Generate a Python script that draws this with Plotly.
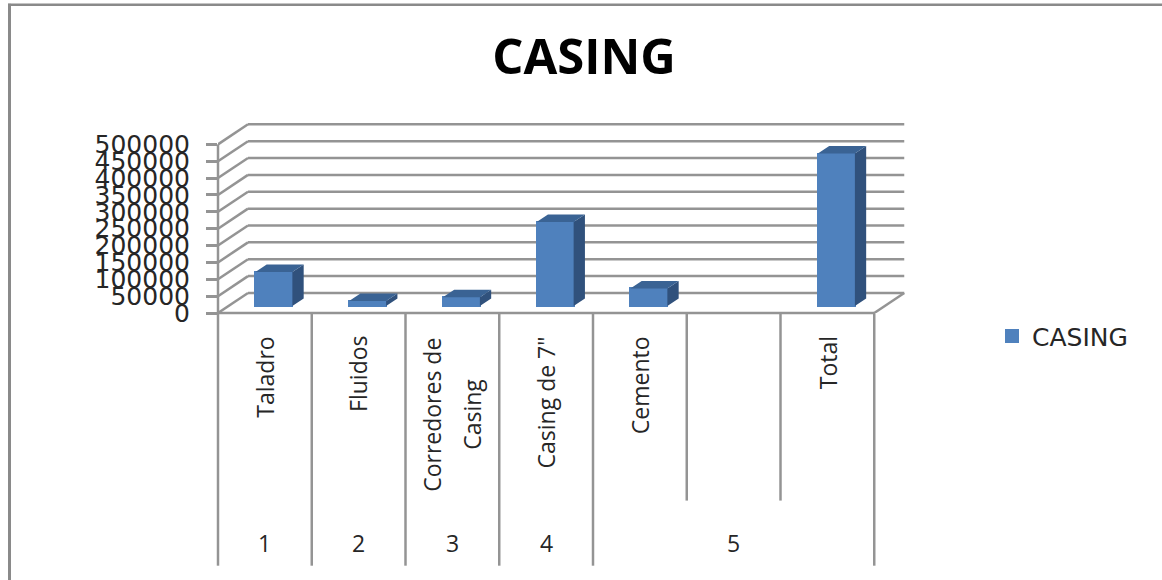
import plotly.graph_objects as go

# ---- data ----
categories = ["Taladro", "Fluidos", "Corredores de|Casing", 'Casing de 7"', "Cemento", "", "Total"]
group_labels = ["1", "2", "3", "4", "5"]
group_spans = [1, 1, 1, 1, 3]
values = [101000, 15000, 26000, 249000, 52000, None, 452000]
y_ticks = [0, 50000, 100000, 150000, 200000, 250000, 300000, 350000, 400000, 450000, 500000]
series_name = "CASING"
title_text = "CASING"

# ---- geometry / style ----
W, H = 1162, 580
L, R, T, B = 218, 914, 118, 312.7      # plot area in pixels
Y500 = 144.3                           # pixel of 500000
CAT_W = 93.75
PX_PER_VAL = (B - Y500) / 500000
GRID = "#949494"
FRONT, SIDE, TOP = "#4f81bd", "#30517c", "#3a6394"

xmax = (R - L) / CAT_W
ymax = (B - T) / PX_PER_VAL
ncat = len(categories)
DX_WALL, DY_WALL = 30 / CAT_W, 20 / PX_PER_VAL
DX_BAR, DY_BAR = 11.3 / CAT_W, 7.5 / PX_PER_VAL
BAR_W = 37 / CAT_W
BAR_SHIFT = 9 / CAT_W
FLOOR = 7 / PX_PER_VAL


def px(x):
    return (x - L) / (R - L)


def py(y):
    return (B - y) / (B - T)


x_pos = [i + 0.5 + BAR_SHIFT for i in range(ncat)]

side_x, side_y, top_x, top_y = [], [], [], []
for xc, v in zip(x_pos, values):
    if v is None:
        continue
    x0, x1 = xc - BAR_W / 2, xc + BAR_W / 2
    y0, y1 = FLOOR, FLOOR + v
    side_x += [x1, x1 + DX_BAR, x1 + DX_BAR, x1, x1, None]
    side_y += [y0, y0 + DY_BAR, y1 + DY_BAR, y1, y0, None]
    top_x += [x0, x0 + DX_BAR, x1 + DX_BAR, x1, x0, None]
    top_y += [y1, y1 + DY_BAR, y1 + DY_BAR, y1, y1, None]

fig = go.Figure()
fig.add_trace(go.Scatter(x=side_x, y=side_y, mode="lines", fill="toself", fillcolor=SIDE,
                         line=dict(width=0), showlegend=False, hoverinfo="skip"))
fig.add_trace(go.Scatter(x=top_x, y=top_y, mode="lines", fill="toself", fillcolor=TOP,
                         line=dict(width=0), showlegend=False, hoverinfo="skip"))
fig.add_trace(go.Bar(x=x_pos, y=values, base=FLOOR, width=BAR_W, name=series_name,
                     marker=dict(color=FRONT, line=dict(color=FRONT, width=2)),
                     showlegend=True))

shapes = []


def line(x0, y0, x1, y1, xref="x", yref="y", width=2.5, color=GRID, layer="below"):
    shapes.append(dict(type="line", x0=x0, y0=y0, x1=x1, y1=y1, xref=xref, yref=yref,
                       layer=layer, line=dict(color=color, width=width)))


# back wall and side wall
for t in y_ticks[1:]:
    line(0, t, DX_WALL, t + DY_WALL)
    line(DX_WALL, t + DY_WALL, ncat + DX_WALL, t + DY_WALL)
# floor
line(0, 0, DX_WALL, DY_WALL)
line(DX_WALL, DY_WALL, ncat + DX_WALL, DY_WALL)
line(ncat, 0, ncat + DX_WALL, DY_WALL)
# axis lines
line(px(L), 0, px(L), 500000, xref="paper", yref="y")
line(0, py(B), ncat, py(B), xref="x", yref="paper")

# category dividers
Y_LONG, Y_SHORT = 565, 500
edges = [0]
for s in group_spans:
    edges.append(edges[-1] + s)
for i in range(ncat + 1):
    bottom = Y_LONG if i in edges else Y_SHORT
    line(px(L + i * CAT_W), py(B), px(L + i * CAT_W), py(bottom), xref="paper", yref="paper")

# image frame
line(px(9.5), py(4), px(9.5), py(580), xref="paper", yref="paper", width=3, color="#8a8a8a", layer="above")
line(px(8), py(5), px(1162), py(5), xref="paper", yref="paper", width=2.5, color="#8a8a8a", layer="above")

annotations = []
CAT_FONT = dict(family="'Open Sans', sans-serif", size=23, color="#262626")
for i, c in enumerate(categories):
    if not c:
        continue
    parts = c.split("|")
    if len(parts) == 1:
        annotations.append(dict(x=i + 0.5, y=py(334), xref="x", yref="paper", text=parts[0], textangle=-90,
                                showarrow=False, yanchor="top", xanchor="center", font=CAT_FONT))
    else:
        mid = 414
        for k, part in enumerate(parts):
            annotations.append(dict(x=i + 0.5 + (k - 0.5) * 40 / CAT_W, y=py(mid), xref="x", yref="paper",
                                    text=part, textangle=-90, showarrow=False, yanchor="middle",
                                    xanchor="center", font=CAT_FONT))
for lab, a, b in zip(group_labels, edges[:-1], edges[1:]):
    annotations.append(dict(x=(a + b) / 2, y=py(542), xref="x", yref="paper", text=lab, showarrow=False,
                            yanchor="middle", xanchor="center",
                            font=dict(family="'Open Sans', sans-serif", size=23, color="#262626")))

fig.update_layout(
    width=W, height=H, autosize=False,
    margin=dict(l=L, r=W - R, t=T, b=H - B, pad=0),
    paper_bgcolor="white", plot_bgcolor="white",
    title=dict(text=f"<b>{title_text}</b>", x=584 / W, y=1 - 57 / H, xref="container", yref="container",
               xanchor="center", yanchor="middle",
               font=dict(family="'Open Sans', sans-serif", size=49, color="#000000")),
    xaxis=dict(range=[0, xmax], showgrid=False, zeroline=False, showline=False, showticklabels=False, ticks=""),
    yaxis=dict(range=[0, ymax], tickvals=y_ticks, ticktext=[str(t) for t in y_ticks], showgrid=False,
               zeroline=False, showline=False, ticks="outside", ticklen=11, tickwidth=2.5, tickcolor=GRID,
               ticklabelstandoff=11,
               tickfont=dict(family="'DejaVu Sans', sans-serif", size=25, color="#262626")),
    legend=dict(x=px(992), y=py(336), xanchor="left", yanchor="middle", bgcolor="rgba(0,0,0,0)",
                font=dict(family="'DejaVu Sans', sans-serif", size=25, color="#262626")),
    showlegend=True,
    shapes=shapes,
    annotations=annotations,
    bargap=0,
)

fig.write_html("out.html", config={"displayModeBar": False},
               post_script="document.body.style.margin='0';document.body.style.overflow='hidden';")
